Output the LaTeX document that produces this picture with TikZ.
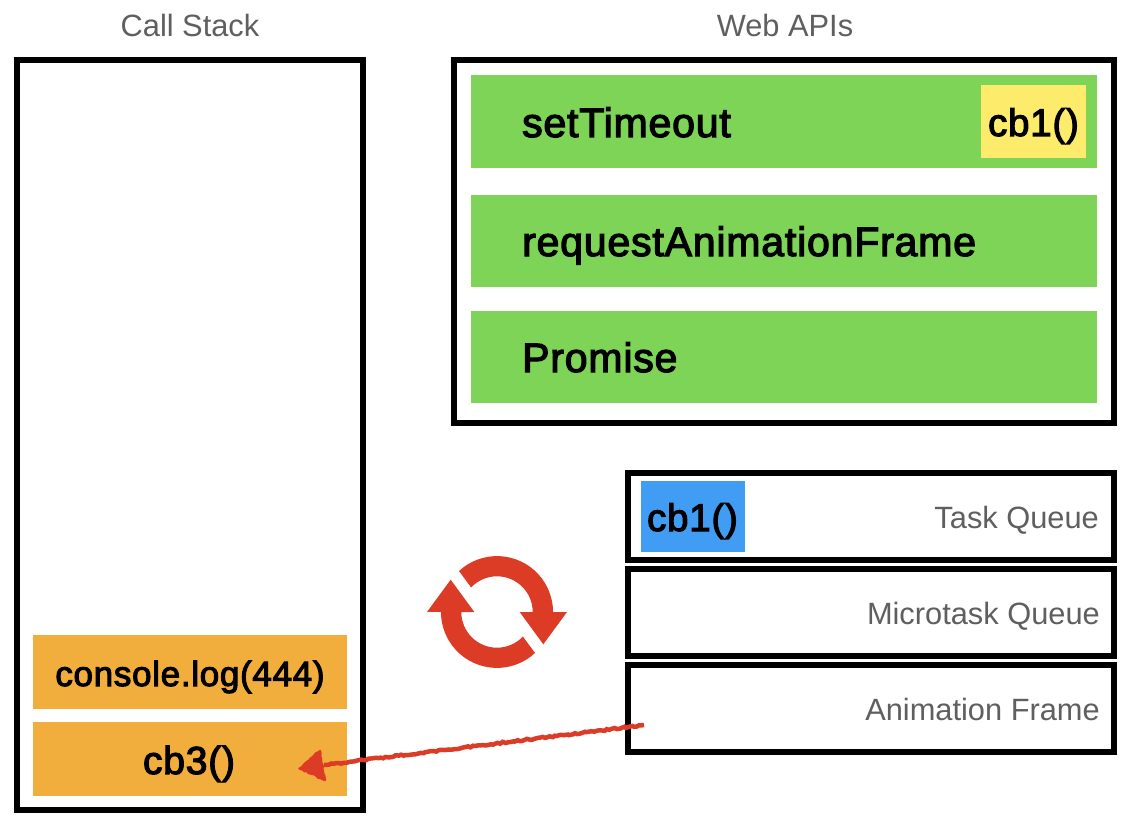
\documentclass[tikz,border=0pt]{standalone}
\usepackage{fontspec}
\setmainfont{Liberation Sans}
\newfontfamily\medfont[FakeBold=3,LetterSpace=2]{Liberation Sans}
\usetikzlibrary{decorations.pathmorphing}
\definecolor{gr}{HTML}{7ED456}
\definecolor{ye}{HTML}{FDEC6C}
\definecolor{bl}{HTML}{419DF4}
\definecolor{or}{HTML}{F2AE3D}
\definecolor{rd}{HTML}{DC3B26}
\definecolor{tx}{HTML}{5F5F5F}
\tikzset{
 frame/.style={draw=black,line width=6pt,fill=none,anchor=north west,inner sep=0pt,outer sep=0pt},
 bar/.style={anchor=north west,inner sep=0pt,outer sep=0pt},
 big/.style={font=\medfont\fontsize{41}{41}\selectfont,text=black,inner sep=0pt},
 chip/.style={font=\medfont\fontsize{38.5}{39}\selectfont,text=black,inner sep=0pt},
 captxt/.style={font=\fontsize{30.8}{31}\selectfont,text=tx,inner sep=0pt},
 sketch/.style={decorate,decoration={random steps,segment length=2.5pt,amplitude=0.8pt}},
}
\begin{document}
\begin{tikzpicture}[x=1pt,y=-1pt]
\useasboundingbox (0,0) rectangle (1130,824);
\fill[white] (0,0) rectangle (1130,824);
% frames
\node[frame,minimum width=346pt,minimum height=750pt] (stack) at (17,60) {};
\node[frame,minimum width=660pt,minimum height=363pt] (apis) at (454,60) {};
\node[frame,minimum width=486pt,minimum height=87pt] (task) at (628,473) {};
\node[frame,minimum width=486pt,minimum height=87pt] (micro) at (628,569) {};
\node[frame,minimum width=486pt,minimum height=87pt] (anim) at (628,665) {};
% titles
\node[captxt,anchor=base] (t1) at (190,37) {Call Stack};
\node[captxt,anchor=base] (t2) at (785,37) {Web APIs};
% green bars
\node[bar,fill=gr,minimum width=626pt,minimum height=93pt] (g1) at (471,75) {};
\node[bar,fill=gr,minimum width=626pt,minimum height=92pt] (g2) at (471,195) {};
\node[bar,fill=gr,minimum width=626pt,minimum height=92pt] (g3) at (471,311) {};
\node[big,anchor=base west] (l1) at (522,137) {setTimeout};
\node[big,anchor=base west] (l2) at (522,256) {requestAnimationFrame};
\node[big,anchor=base west] (l3) at (522,372) {Promise};
\node[bar,fill=ye,minimum width=105pt,minimum height=73pt] (y1) at (981,85) {};
\node[chip,anchor=base] (y1t) at (1033.5,136) {cb1()};
% queues
\node[bar,fill=bl,minimum width=104pt,minimum height=71pt] (b1) at (641,481) {};
\node[chip,anchor=base] (b1t) at (692.5,531) {cb1()};
\node[captxt,anchor=base east] (q1) at (1099,528) {Task Queue};
\node[captxt,anchor=base east] (q2) at (1100,624) {Microtask Queue};
\node[captxt,anchor=base east] (q3) at (1100,720) {Animation Frame};
% orange
\node[bar,fill=or,minimum width=314pt,minimum height=74pt] (o1) at (33,635) {};
\node[bar,fill=or,minimum width=314pt,minimum height=74pt] (o2) at (33,722) {};
\node[big,font=\medfont\fontsize{35}{35}\selectfont,anchor=base] (o1t) at (190,686) {console.log(444)};
\node[big,font=\medfont\fontsize{39}{39}\selectfont,anchor=base] (o2t) at (189,774) {cb3()};
% cycle icon
\begin{scope}[shift={(497,612)},y=1pt]
\fill[rd] (-38,41) arc[start angle=132.8,end angle=0,radius=56pt]
  -- (70,0) -- (46.3,-32.3) -- (22.7,0) -- (35.7,0)
  arc[start angle=0,end angle=136.5,radius=35.7pt] -- cycle;
\fill[rd] (38,-41) arc[start angle=-47.2,end angle=-180,radius=56pt]
  -- (-70,0) -- (-46.3,32.3) -- (-22.7,0) -- (-35.7,0)
  arc[start angle=180,end angle=316.5,radius=35.7pt] -- cycle;
\end{scope}
% arrow
\coordinate (from) at (644,725);
\coordinate (to) at (324,765);
\draw[rd,line width=4.5pt,sketch] (from) -- (to);
\filldraw[rd,line width=2.5pt,sketch,line join=round] (299.5,768.5) -- (320,751) -- (325,780) -- cycle;
\end{tikzpicture}
\end{document}
